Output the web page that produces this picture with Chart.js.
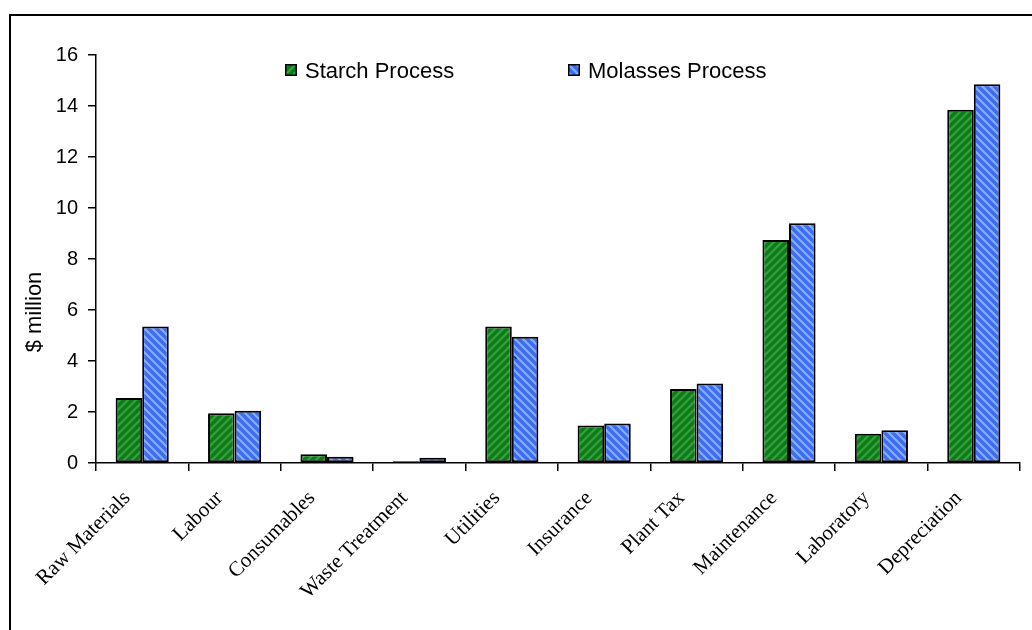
<!DOCTYPE html>
<html>
<head>
<meta charset="utf-8">
<script src="https://cdn.jsdelivr.net/npm/chart.js@4/dist/chart.umd.min.js"></script>
<style>
  html, body { margin: 0; padding: 0; background: #fff; overflow: hidden; }
  #frame { position: absolute; left: 9px; top: 14px; width: 1100px; height: 700px; border: 2px solid #000; }
  #wrap { position: absolute; left: 0; top: 0; width: 1032px; height: 630px; }
</style>
</head>
<body>
<div id="frame"></div>
<div id="wrap"><canvas id="c" width="1032" height="630"></canvas></div>
<script>
// Operating cost breakdown, $ million
const categories = ['Raw Materials', 'Labour', 'Consumables', 'Waste Treatment', 'Utilities',
                    'Insurance', 'Plant Tax', 'Maintenance', 'Laboratory', 'Depreciation'];
const starchProcess   = [2.55, 1.95, 0.34, 0.07, 5.35, 1.47, 2.90, 8.75, 1.15, 13.85];
const molassesProcess = [5.35, 2.05, 0.25, 0.21, 4.95, 1.55, 3.12, 9.40, 1.28, 14.85];
const seriesNames = ['Starch Process', 'Molasses Process'];
const yMin = 0, yMax = 16, yStep = 2;

const canvas = document.getElementById('c');
const ctx = canvas.getContext('2d');

// diagonal hatch fill: dir 1 = "/", dir -1 = "\"
function hatch(base, stripe, dir) {
  const s = 8;
  const p = document.createElement('canvas');
  p.width = s; p.height = s;
  const g = p.getContext('2d');
  g.fillStyle = base;
  g.fillRect(0, 0, s, s);
  g.strokeStyle = stripe;
  g.lineWidth = 2.2;
  g.beginPath();
  if (dir > 0) {
    g.moveTo(-2, s + 2); g.lineTo(s + 2, -2);
    g.moveTo(-2, 2); g.lineTo(2, -2);
    g.moveTo(s - 2, s + 2); g.lineTo(s + 2, s - 2);
  } else {
    g.moveTo(-2, -2); g.lineTo(s + 2, s + 2);
    g.moveTo(-2, s - 2); g.lineTo(2, s + 2);
    g.moveTo(s - 2, -2); g.lineTo(s + 2, 2);
  }
  g.stroke();
  return ctx.createPattern(p, 'repeat');
}

const greenFill = hatch('#0e7c14', '#35a043', 1);
const blueFill = hatch('#3d6df4', '#86adff', -1);
const fills = [greenFill, blueFill];

// in-plot legend, y-axis title and stray mark
const decorations = {
  id: 'decorations',
  afterDraw(chart) {
    const c = chart.ctx;
    c.save();
    // legend
    const items = [{ x: 285, tx: 305 }, { x: 568, tx: 588 }];
    c.font = '22px "Liberation Sans", Arial, sans-serif';
    c.textBaseline = 'alphabetic';
    c.textAlign = 'left';
    items.forEach((it, i) => {
      c.fillStyle = fills[i];
      c.fillRect(it.x, 64, 12, 12);
      c.lineWidth = 1.5;
      c.strokeStyle = '#000';
      c.strokeRect(it.x + 0.75, 64.75, 10.5, 10.5);
      c.fillStyle = '#000';
      c.fillText(seriesNames[i], it.tx, 78);
    });
    // y title
    c.translate(41, 312);
    c.rotate(-Math.PI / 2);
    c.textAlign = 'center';
    c.font = '22px "Liberation Sans", Arial, sans-serif';
    c.fillText('$ million', 0, 0);
    c.restore();
    // small stray tick beside the Utilities bars
    c.save();
    c.font = '16px "Liberation Sans", Arial, sans-serif';
    c.fillStyle = '#000';
    const xs = chart.scales.x, ys = chart.scales.y;
    c.fillText('`', xs.getPixelForValue(4) + 1, ys.getPixelForValue(molassesProcess[4]) + 32);
    c.restore();
  }
};

new Chart(ctx, {
  type: 'bar',
  data: {
    labels: categories,
    datasets: [
      { label: seriesNames[0], data: starchProcess, backgroundColor: greenFill, borderColor: '#000', borderWidth: 2, borderSkipped: false },
      { label: seriesNames[1], data: molassesProcess, backgroundColor: blueFill, borderColor: '#000', borderWidth: 2, borderSkipped: false }
    ]
  },
  options: {
    responsive: false,
    animation: false,
    events: [],
    layout: { padding: { top: 55, right: 12, left: 0, bottom: 0 } },
    datasets: { bar: { categoryPercentage: 0.575, barPercentage: 1.0 } },
    plugins: { legend: { display: false }, tooltip: { enabled: false }, title: { display: false } },
    scales: {
      x: {
        offset: true,
        grid: { display: true, drawOnChartArea: false, drawTicks: true, tickLength: 8, color: '#000', lineWidth: 1.5, offset: true },
        border: { display: true, color: '#000', width: 1.5 },
        ticks: {
          color: '#000',
          maxRotation: 45, minRotation: 45,
          padding: 15,
          labelOffset: -15,
          font: { family: '"Liberation Serif", "Times New Roman", serif', size: 21 }
        },
        afterFit(scale) { scale.height = 167; }
      },
      y: {
        min: yMin, max: yMax,
        grid: { display: true, drawOnChartArea: false, drawTicks: true, tickLength: 8, color: '#000', lineWidth: 1.5 },
        border: { display: true, color: '#000', width: 1.5 },
        ticks: {
          stepSize: yStep,
          color: '#000',
          padding: 10,
          font: { family: '"Liberation Sans", Arial, sans-serif', size: 20 }
        },
        afterFit(scale) { scale.width = 96; }
      }
    }
  },
  plugins: [decorations]
});
</script>
</body>
</html>
